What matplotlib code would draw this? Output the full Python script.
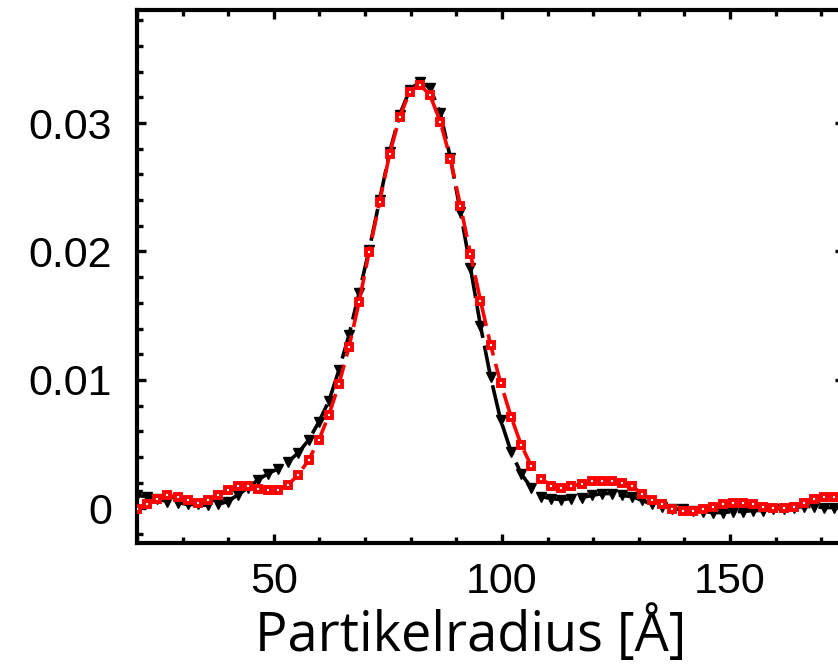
import matplotlib
matplotlib.use("Agg")
import matplotlib.pyplot as plt
from matplotlib.ticker import MultipleLocator, FuncFormatter

plt.rcParams["font.family"] = ["Liberation Sans", "DejaVu Sans"]

# Partikelradius [Å]
radius = [20.0, 22.2, 24.4, 26.6, 28.9, 31.1, 33.3, 35.5, 37.7, 39.9,
          42.2, 44.4, 46.6, 48.8, 51.0, 53.2, 55.4, 57.7, 59.9, 62.1,
          64.3, 66.5, 68.7, 70.9, 73.2, 75.4, 77.6, 79.8, 82.0, 84.2,
          86.5, 88.7, 90.9, 93.1, 95.3, 97.5, 99.7, 102.0, 104.2, 106.4,
          108.6, 110.8, 113.0, 115.2, 117.5, 119.7, 121.9, 124.1, 126.3, 128.5,
          130.8, 133.0, 135.2, 137.4, 139.6, 141.8, 144.0, 146.3, 148.5, 150.7,
          152.9, 155.1, 157.3, 159.5, 161.8, 164.0, 166.2, 168.4, 170.6, 172.8]

# Verteilung (schwarz, Dreiecke)
dist_black = [0.00100, 0.00092, 0.00076, 0.00053, 0.00045, 0.00030, 0.00030, 0.00022, 0.00030, 0.00053,
              0.00107, 0.00162, 0.00224, 0.00271, 0.00310, 0.00364, 0.00434, 0.00535, 0.00675, 0.00839,
              0.01080, 0.01352, 0.01679, 0.02014, 0.02403, 0.02776, 0.03065, 0.03259, 0.03321, 0.03275,
              0.03080, 0.02730, 0.02310, 0.01874, 0.01422, 0.01026, 0.00691, 0.00442, 0.00271, 0.00162,
              0.00092, 0.00076, 0.00068, 0.00076, 0.00084, 0.00100, 0.00115, 0.00115, 0.00100, 0.00092,
              0.00061, 0.00030, 0.00014, -0.00002, -0.00009, -0.00017, -0.00025, -0.00033, -0.00033, -0.00025,
              -0.00025, -0.00017, -0.00017, -0.00009, -0.00002, 0.00006, 0.00014, 0.00014, 0.00006, 0.00006]

# Verteilung (rot, Quadrate)
dist_red = [-0.00009, 0.00030, 0.00076, 0.00100, 0.00092, 0.00068, 0.00045, 0.00068, 0.00100, 0.00146,
            0.00170, 0.00170, 0.00154, 0.00139, 0.00139, 0.00185, 0.00263, 0.00380, 0.00535, 0.00730,
            0.00971, 0.01259, 0.01609, 0.01998, 0.02387, 0.02761, 0.03049, 0.03243, 0.03298, 0.03220,
            0.03010, 0.02722, 0.02356, 0.01983, 0.01617, 0.01275, 0.00979, 0.00714, 0.00496, 0.00333,
            0.00232, 0.00177, 0.00162, 0.00170, 0.00193, 0.00209, 0.00216, 0.00216, 0.00201, 0.00170,
            0.00115, 0.00068, 0.00030, -0.00002, -0.00017, -0.00017, -0.00009, 0.00014, 0.00030, 0.00045,
            0.00045, 0.00030, 0.00014, 0.00006, 0.00006, 0.00014, 0.00045, 0.00076, 0.00092, 0.00092]

fig = plt.figure(figsize=(8.38, 6.64), dpi=100)
# rechte Achse liegt knapp ausserhalb des Bildes (Ausschnitt)
ax = fig.add_axes([137 / 838, 121 / 664, 707 / 838, 533 / 664])

ax.plot(radius, dist_black, color="black", lw=2.6, dashes=(9, 2.2),
        marker="v", ms=6.5, mew=1.0, mfc="black", mec="black", zorder=3)
ax.plot(radius, dist_red, color="red", lw=2.6, dashes=(6, 2.4),
        marker="s", ms=4.2, mew=2.8, mfc="white", mec="red", zorder=4)

ax.set_xlim(20, 175)
ax.set_ylim(-0.0027, 0.0388)

ax.xaxis.set_major_locator(MultipleLocator(50))
ax.xaxis.set_minor_locator(MultipleLocator(10))
ax.yaxis.set_major_locator(MultipleLocator(0.01))
ax.yaxis.set_minor_locator(MultipleLocator(0.002))
ax.yaxis.set_major_formatter(FuncFormatter(lambda v, p: "0" if abs(v) < 1e-9 else "%.2f" % v))

ax.tick_params(which="both", direction="in", top=True, right=True, width=2.4)
ax.tick_params(which="major", length=6.5)
ax.tick_params(which="minor", length=4.3)
ax.tick_params(axis="x", which="major", labelsize=31, pad=14)
ax.tick_params(axis="y", which="major", labelsize=31, pad=18)

for s in ax.spines.values():
    s.set_linewidth(3.0)

ax.set_xlabel("Partikelradius [Å]", family=["Open Sans", "DejaVu Sans"], fontsize=39)
ax.xaxis.set_label_coords((471 - 137) / 707, (543 - 651) / 533)
ax.xaxis.label.set_va("baseline")

fig.savefig("out.png", dpi=100)
